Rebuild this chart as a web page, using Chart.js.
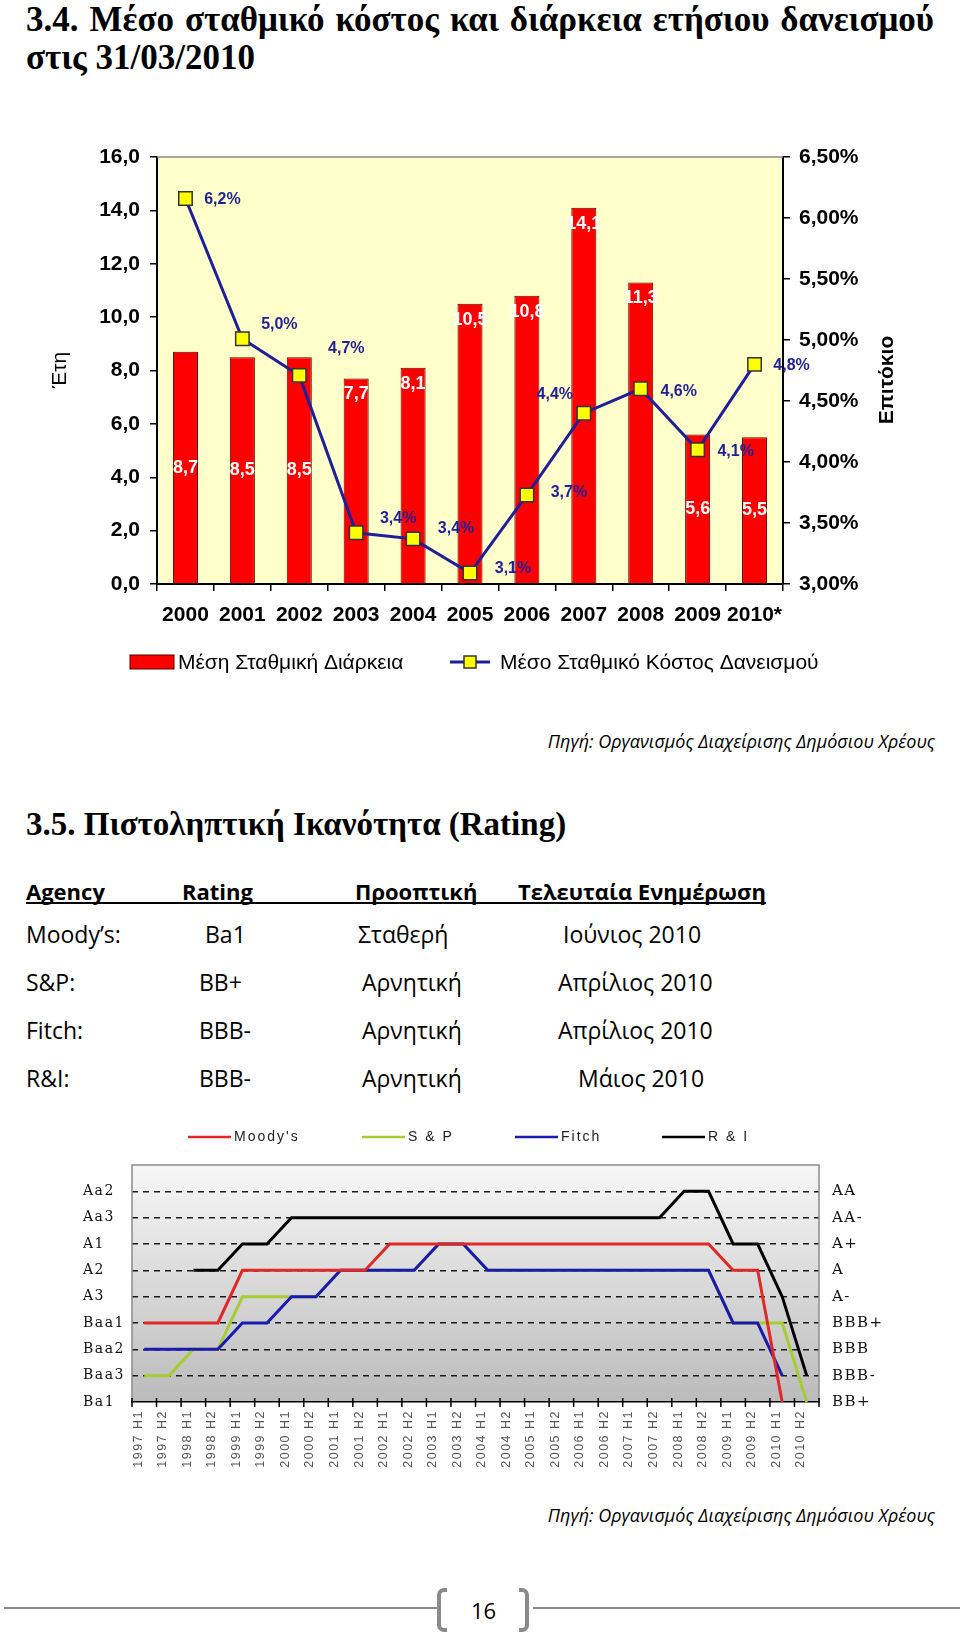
<!DOCTYPE html>
<html>
<head>
<meta charset="utf-8">
<script src="https://cdn.jsdelivr.net/npm/chart.js@4.4.1/dist/chart.umd.min.js"></script>
<style>
html, body { margin: 0; padding: 0; background: #fff; }
body { width: 960px; height: 1634px; position: relative; overflow: hidden; }
.t { position: absolute; white-space: nowrap; line-height: 1; color: #000; }
.h { font-family: 'Liberation Serif', 'Times New Roman', serif; font-weight: bold; font-size: 35px; }
.b { font-family: 'Open Sans', 'Noto Sans', sans-serif; font-size: 23px; }
.bb { font-weight: bold; font-size: 22px; }
.src { font-family: 'Open Sans', 'Noto Sans', sans-serif; font-style: italic; font-size: 18px; right: 25px; }
canvas { position: absolute; left: 0; }
.gl { position: absolute; height: 2px; background: #8a8a8a; }
.br { position: absolute; top: 1588px; width: 6px; height: 36px; border: 4px solid #8a8a8a; }
</style>
</head>
<body>

<div class="t h" style="left:26px;top:2px;width:908px;white-space:normal;text-align:justify;text-align-last:justify;">3.4. Μέσο σταθμικό κόστος και διάρκεια ετήσιου δανεισμού</div>
<div class="t h" style="left:26px;top:40px;">στις 31/03/2010</div>

<canvas id="costChart" width="960" height="600" style="top:100px;"></canvas>

<div class="t src" style="top:732px;">Πηγή: Οργανισμός Διαχείρισης Δημόσιου Χρέους</div>

<div class="t h" style="left:26px;top:808px;font-size:33px;">3.5. Πιστοληπτική Ικανότητα (Rating)</div>

<div class="t b bb" style="left:26px;top:880px;">Agency</div>
<div class="t b bb" style="left:182px;top:880px;">Rating</div>
<div class="t b bb" style="left:355px;top:880px;">Προοπτική</div>
<div class="t b bb" style="left:518px;top:880px;">Τελευταία Ενημέρωση</div>
<div style="position:absolute;left:26px;top:902px;width:740px;height:2px;background:#000;"></div>

<div class="t b" style="left:26px;top:923px;">Moody’s:</div>
<div class="t b" style="left:205px;top:923px;">Ba1</div>
<div class="t b" style="left:358px;top:923px;">Σταθερή</div>
<div class="t b" style="left:563px;top:923px;">Ιούνιος 2010</div>

<div class="t b" style="left:26px;top:971px;">S&amp;P:</div>
<div class="t b" style="left:199px;top:971px;">BB+</div>
<div class="t b" style="left:362px;top:971px;">Αρνητική</div>
<div class="t b" style="left:558px;top:971px;">Απρίλιος 2010</div>

<div class="t b" style="left:26px;top:1019px;">Fitch:</div>
<div class="t b" style="left:199px;top:1019px;">BBB-</div>
<div class="t b" style="left:362px;top:1019px;">Αρνητική</div>
<div class="t b" style="left:558px;top:1019px;">Απρίλιος 2010</div>

<div class="t b" style="left:26px;top:1067px;">R&amp;I:</div>
<div class="t b" style="left:199px;top:1067px;">BBB-</div>
<div class="t b" style="left:362px;top:1067px;">Αρνητική</div>
<div class="t b" style="left:578px;top:1067px;">Μάιος 2010</div>

<canvas id="ratingChart" width="960" height="400" style="top:1100px;"></canvas>

<div class="t src" style="top:1506px;">Πηγή: Οργανισμός Διαχείρισης Δημόσιου Χρέους</div>

<div class="gl" style="left:4px;top:1607px;width:433px;"></div>
<div class="br" style="left:437px;border-right:none;border-radius:7px 0 0 7px;"></div>
<div class="t b" style="left:471px;top:1599px;font-size:22px;">16</div>
<div class="br" style="left:519px;border-left:none;border-radius:0 7px 7px 0;"></div>
<div class="gl" style="left:533px;top:1607px;width:427px;"></div>

<script>
// Μέσο σταθμικό κόστος & διάρκεια
const years = ['2000', '2001', '2002', '2003', '2004', '2005', '2006', '2007', '2008', '2009', '2010*'];
const avgDuration = [8.7, 8.5, 8.5, 7.7, 8.1, 10.5, 10.8, 14.1, 11.3, 5.6, 5.5];
const avgCost = [6.16, 5.01, 4.71, 3.42, 3.37, 3.09, 3.73, 4.40, 4.60, 4.10, 4.80];

// Rating ανά εξάμηνο (0 = Ba1 / BB+ ... 8 = Aa2 / AA)
const halfYears = ['1997 H1', '1997 H2', '1998 H1', '1998 H2', '1999 H1', '1999 H2', '2000 H1', '2000 H2',
    '2001 H1', '2001 H2', '2002 H1', '2002 H2', '2003 H1', '2003 H2', '2004 H1', '2004 H2',
    '2005 H1', '2005 H2', '2006 H1', '2006 H2', '2007 H1', '2007 H2', '2008 H1', '2008 H2',
    '2009 H1', '2009 H2', '2010 H1', '2010 H2'];
const moodysScale = ['Ba1', 'Baa3', 'Baa2', 'Baa1', 'A3', 'A2', 'A1', 'Aa3', 'Aa2'];
const spScale = ['BB+', 'BBB-', 'BBB', 'BBB+', 'A-', 'A', 'A+', 'AA-', 'AA'];
const moodys = [3, 3, 3, 3, 5, 5, 5, 5, 5, 5, 6, 6, 6, 6, 6, 6, 6, 6, 6, 6, 6, 6, 6, 6, 5, 5, 0, null];
const sp = [1, 1, 2, 2, 4, 4, 4, 4, 5, 5, 5, 5, 6, 6, 5, 5, 5, 5, 5, 5, 5, 5, 5, 5, 3, 3, 3, 0];
const fitch = [2, 2, 2, 2, 3, 3, 4, 4, 5, 5, 5, 5, 6, 6, 5, 5, 5, 5, 5, 5, 5, 5, 5, 5, 3, 3, 1, null];
const ri = [null, null, 5, 5, 6, 6, 7, 7, 7, 7, 7, 7, 7, 7, 7, 7, 7, 7, 7, 7, 7, 7, 8, 8, 6, 6, 4, 1];

const ARIAL = '"Liberation Sans", Arial, sans-serif';

// θέση ετικετών: true = μέσα στην κορυφή της μπάρας, false = στο κέντρο
const barLabelTop = [false, false, false, true, true, true, true, true, true, false, false];
// μετατόπιση ετικετών κόστους από το σημείο (px)
const costLabelShift = [[37, 1], [37, -14], [47, -27], [42, -14], [43, -10], [43, -4], [42, -2], [-29, -19], [38, 3], [38, 2], [37, 1]];

const costExtras = {
    id: 'costExtras',
    beforeDraw(chart) {
        const { ctx, chartArea: a } = chart;
        ctx.save();
        ctx.fillStyle = '#FFFFCC';
        ctx.fillRect(a.left, a.top, a.right - a.left, a.bottom - a.top);
        ctx.restore();
    },
    afterDatasetDraw(chart, args) {
        if (args.index !== 0) return;
        const ctx = chart.ctx;
        ctx.save();
        ctx.font = 'bold 18px ' + ARIAL;
        ctx.fillStyle = '#fff';
        ctx.textAlign = 'center';
        ctx.textBaseline = 'middle';
        args.meta.data.forEach((bar, i) => {
            const y = barLabelTop[i] ? bar.y + 16 : (bar.y + bar.base) / 2;
            ctx.fillText(avgDuration[i].toFixed(1).replace('.', ','), bar.x, y);
        });
        ctx.restore();
    },
    afterDatasetsDraw(chart) {
        const ctx = chart.ctx;
        ctx.save();
        ctx.font = 'bold 16px ' + ARIAL;
        ctx.fillStyle = '#1F1F99';
        ctx.textAlign = 'center';
        ctx.textBaseline = 'middle';
        chart.getDatasetMeta(1).data.forEach((pt, i) => {
            const s = costLabelShift[i];
            ctx.fillText(avgCost[i].toFixed(1).replace('.', ',') + '%', pt.x + s[0], pt.y + s[1]);
        });
        ctx.restore();
    },
    afterDraw(chart) {
        const { ctx, chartArea: a } = chart;
        ctx.save();
        // πάνω πλαίσιο
        ctx.strokeStyle = '#888';
        ctx.lineWidth = 1.5;
        ctx.beginPath();
        ctx.moveTo(a.left, a.top);
        ctx.lineTo(a.right, a.top);
        ctx.stroke();

        // τίτλοι αξόνων
        ctx.fillStyle = '#000';
        ctx.textAlign = 'center';
        ctx.textBaseline = 'middle';
        ctx.translate(60, 270);
        ctx.rotate(-Math.PI / 2);
        ctx.font = '21px ' + ARIAL;
        ctx.fillText('Έτη', 0, 0);
        ctx.setTransform(1, 0, 0, 1, 0, 0);
        ctx.translate(887, 280);
        ctx.rotate(-Math.PI / 2);
        ctx.font = 'bold 21px ' + ARIAL;
        ctx.fillText('Επιτόκιο', 0, 0);
        ctx.setTransform(1, 0, 0, 1, 0, 0);

        // υπόμνημα
        const bar = chart.data.datasets[0], line = chart.data.datasets[1];
        const ly = 562;
        ctx.fillStyle = bar.backgroundColor;
        ctx.fillRect(130, ly - 7, 44, 14);
        ctx.strokeStyle = bar.borderColor;
        ctx.lineWidth = 1;
        ctx.strokeRect(130, ly - 7, 44, 14);
        ctx.strokeStyle = line.borderColor;
        ctx.lineWidth = 3;
        ctx.beginPath();
        ctx.moveTo(450, ly);
        ctx.lineTo(490, ly);
        ctx.stroke();
        ctx.fillStyle = line.pointBackgroundColor;
        ctx.fillRect(464, ly - 6, 12, 12);
        ctx.strokeStyle = line.pointBorderColor;
        ctx.lineWidth = 1.5;
        ctx.strokeRect(464, ly - 6, 12, 12);
        ctx.fillStyle = '#000';
        ctx.font = '21px ' + ARIAL;
        ctx.textAlign = 'left';
        ctx.fillText(bar.label, 178, ly + 1);
        ctx.fillText(line.label, 500, ly + 1);
        ctx.restore();
    }
};

const tickFont = { family: ARIAL, weight: 'bold', size: 21 };

new Chart(document.getElementById('costChart'), {
    type: 'bar',
    data: {
        labels: years,
        datasets: [
            {
                type: 'bar',
                label: 'Μέση Σταθμική Διάρκεια',
                data: avgDuration,
                yAxisID: 'y',
                backgroundColor: '#FF0000',
                borderColor: '#5a0000',
                borderWidth: 1,
                barPercentage: 0.44,
                categoryPercentage: 1,
                order: 1
            },
            {
                type: 'line',
                label: 'Μέσο Σταθμικό Κόστος Δανεισμού',
                data: avgCost,
                yAxisID: 'y1',
                borderColor: '#1F1F99',
                borderWidth: 3,
                tension: 0,
                pointStyle: 'rect',
                pointRadius: 9.5,
                pointBackgroundColor: '#FFFF00',
                pointBorderColor: '#333',
                pointBorderWidth: 1.5,
                clip: false,
                order: 0
            }
        ]
    },
    options: {
        responsive: false,
        animation: false,
        layout: { padding: { top: 57, bottom: 76, left: 0, right: 0 } },
        plugins: { legend: { display: false }, tooltip: { enabled: false } },
        scales: {
            x: {
                offset: true,
                grid: { offset: true, drawOnChartArea: false, tickLength: 7, color: '#000', lineWidth: 1.5 },
                border: { color: '#000', width: 2 },
                ticks: { font: tickFont, color: '#000', padding: 12, maxRotation: 0, autoSkip: false },
                afterFit(s) { s.height = 40; }
            },
            y: {
                position: 'left',
                min: 0,
                max: 16,
                ticks: { stepSize: 2, font: tickFont, color: '#000', padding: 10,
                    callback: v => v.toFixed(1).replace('.', ',') },
                grid: { drawOnChartArea: false, tickLength: 7, color: '#000', lineWidth: 1.5 },
                border: { color: '#000', width: 2 },
                afterFit(s) { s.width = 157; }
            },
            y1: {
                position: 'right',
                min: 3,
                max: 6.5,
                ticks: { stepSize: 0.5, font: tickFont, color: '#000', padding: 9,
                    callback: v => v.toFixed(2).replace('.', ',') + '%' },
                grid: { drawOnChartArea: false, tickLength: 7, color: '#000', lineWidth: 1.5 },
                border: { color: '#000', width: 2 },
                afterFit(s) { s.width = 177; }
            }
        }
    },
    plugins: [costExtras]
});

// υπόμνημα rating: αρχή γραμμής κάθε στοιχείου
const ratingLegendX = [188, 362, 515, 662];

const ratingExtras = {
    id: 'ratingExtras',
    beforeDraw(chart) {
        const { ctx, chartArea: a } = chart;
        const g = ctx.createLinearGradient(0, a.top, 0, a.bottom);
        g.addColorStop(0, '#F7F7F7');
        g.addColorStop(1, '#BBBBBB');
        ctx.save();
        ctx.fillStyle = g;
        ctx.fillRect(a.left, a.top, a.right - a.left, a.bottom - a.top);
        ctx.restore();
        // αραιά γράμματα για τις ετικέτες των αξόνων
        ctx.letterSpacing = '1.5px';
    },
    beforeDatasetsDraw(chart) {
        chart.ctx.letterSpacing = '0px';
    },
    afterDraw(chart) {
        const { ctx, chartArea: a } = chart;
        ctx.save();
        ctx.strokeStyle = '#8c8c8c';
        ctx.lineWidth = 1.5;
        ctx.beginPath();
        ctx.moveTo(a.left, a.bottom);
        ctx.lineTo(a.left, a.top);
        ctx.lineTo(a.right, a.top);
        ctx.lineTo(a.right, a.bottom);
        ctx.stroke();

        // σημάδια άξονα x
        const n = halfYears.length;
        const step = (a.right - a.left) / n;
        ctx.strokeStyle = '#000';
        ctx.beginPath();
        for (let k = 0; k <= n; k++) {
            const x = a.left + k * step;
            ctx.moveTo(x, a.bottom - 4);
            ctx.lineTo(x, a.bottom + 5);
        }
        ctx.stroke();

        // υπόμνημα
        ctx.font = '14px ' + ARIAL;
        ctx.letterSpacing = '2px';
        ctx.textBaseline = 'middle';
        ctx.textAlign = 'left';
        chart.data.datasets.forEach((ds, i) => {
            const x = ratingLegendX[i];
            ctx.strokeStyle = ds.borderColor;
            ctx.lineWidth = 2.5;
            ctx.beginPath();
            ctx.moveTo(x, 37);
            ctx.lineTo(x + 43, 37);
            ctx.stroke();
            ctx.fillStyle = '#222';
            ctx.fillText(ds.label, x + 46, 37);
        });
        ctx.letterSpacing = '0px';
        ctx.restore();
    }
};

const SERIF = '"DejaVu Serif", "Liberation Serif", serif';

new Chart(document.getElementById('ratingChart'), {
    type: 'line',
    data: {
        labels: halfYears,
        datasets: [
            { label: "Moody's", data: moodys, borderColor: '#E02828', order: 1 },
            { label: 'S & P', data: sp, borderColor: '#A5CC30', order: 3 },
            { label: 'Fitch', data: fitch, borderColor: '#1A1AB0', order: 2 },
            { label: 'R & I', data: ri, borderColor: '#000000', order: 0 }
        ]
    },
    options: {
        responsive: false,
        animation: false,
        datasets: { line: { borderWidth: 3, pointRadius: 0, tension: 0, clip: 6, spanGaps: false } },
        layout: { padding: { top: 65, left: 83, right: 0, bottom: 0 } },
        plugins: { legend: { display: false }, tooltip: { enabled: false } },
        scales: {
            x: {
                offset: true,
                grid: { offset: true, drawOnChartArea: false, drawTicks: false },
                border: { color: '#000', width: 1.5 },
                ticks: { autoSkip: false, maxRotation: 90, minRotation: 90, labelOffset: -6, padding: 8,
                    font: { family: ARIAL, size: 12.5 }, color: '#555' },
                afterFit(s) { s.height = 98; }
            },
            y: {
                position: 'left',
                min: 0,
                max: 9,
                ticks: { stepSize: 1, crossAlign: 'far', padding: 0, font: { family: SERIF, size: 14 }, color: '#111',
                    callback: v => moodysScale[v] ?? '' },
                grid: { drawTicks: false, lineWidth: 1.5,
                    color: c => (c.tick.value > 0 && c.tick.value < 9) ? '#1a1a1a' : 'rgba(0,0,0,0)' },
                border: { display: false, dash: [6, 5] },
                afterFit(s) { s.width = 49; }
            },
            y2: {
                position: 'right',
                min: 0,
                max: 9,
                ticks: { stepSize: 1, padding: 13, font: { family: SERIF, size: 15 }, color: '#111',
                    callback: v => spScale[v] ?? '' },
                grid: { drawOnChartArea: false, drawTicks: false },
                border: { display: false },
                afterFit(s) { s.width = 141; }
            }
        }
    },
    plugins: [ratingExtras]
});
</script>
</body>
</html>
